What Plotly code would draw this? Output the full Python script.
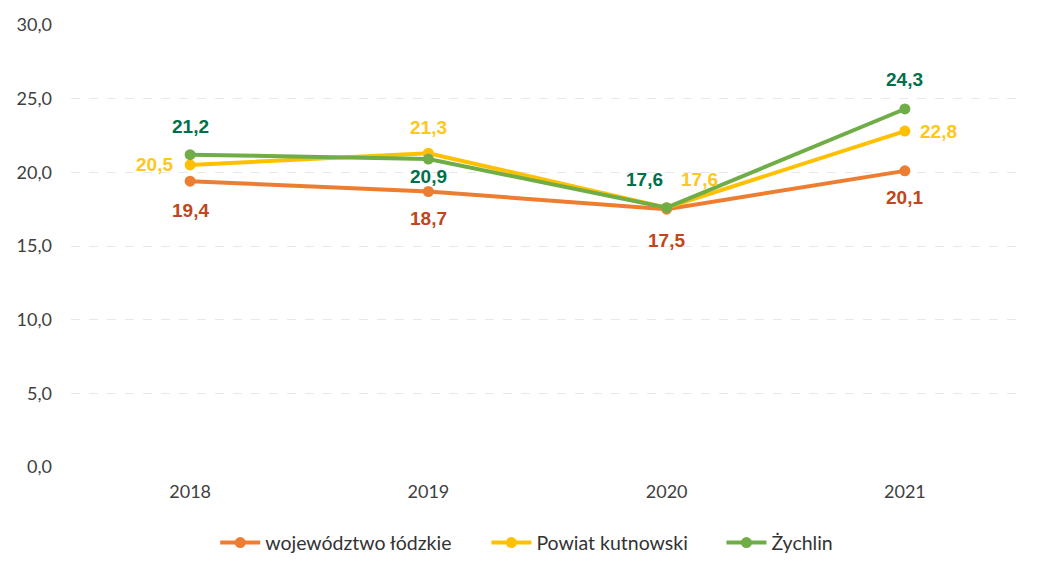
import plotly.graph_objects as go

years = [2018, 2019, 2020, 2021]
year_labels = ["2018", "2019", "2020", "2021"]
lodzkie = [19.4, 18.7, 17.5, 20.1]
kutnowski = [20.5, 21.3, 17.6, 22.8]
zychlin = [21.2, 20.9, 17.6, 24.3]
tick_vals = [0, 5, 10, 15, 20, 25, 30]
tick_text = ["0,0", "5,0", "10,0", "15,0", "20,0", "25,0", "30,0"]

series = [
    ("województwo łódzkie", lodzkie, "#ED7D31", "#C0461C", "legend",
     [(0, -29), (0, -27), (0, -31), (0, -27)]),
    ("Powiat kutnowski", kutnowski, "#FFC000", "#FFC71A", "legend2",
     [(-36, 0), (0, 26), (33, 28), (34, 0)]),
    ("Żychlin", zychlin, "#70AD47", "#00704A", "legend3",
     [(0, 28), (0, -17), (-22, 28), (0, 29)]),
]

fig = go.Figure()
annotations = []
for name, vals, col, lcol, leg, shifts in series:
    fig.add_trace(go.Scatter(
        x=years, y=vals, name=name, mode="lines+markers",
        line=dict(color=col, width=4),
        marker=dict(color=col, size=11),
        legend=leg,
    ))
    for xv, v, (dx, dy) in zip(years, vals, shifts):
        annotations.append(dict(
            x=xv, y=v, xref="x", yref="y", showarrow=False,
            text="<b>" + f"{v:.1f}".replace(".", ",") + "</b>",
            font=dict(family="Liberation Sans, Arial", size=19, color=lcol),
            xshift=dx, yshift=dy,
        ))

legend_style = dict(
    orientation="h", xref="container", yref="container",
    xanchor="left", y=0.05, yanchor="middle",
    font=dict(family="Lato, Carlito, sans-serif", size=19.5, color="#333333"),
    itemwidth=40, bgcolor="rgba(0,0,0,0)",
)

# page has an 8px body margin; figure sized so the plot lands where the reference has it
fig.update_layout(
    width=1031, height=563,
    margin=dict(l=63, r=15, t=17, b=104, autoexpand=False),
    paper_bgcolor="white", plot_bgcolor="white",
    annotations=annotations,
    showlegend=True,
    legend=dict(legend_style, x=0.201),
    legend2=dict(legend_style, x=0.464),
    legend3=dict(legend_style, x=0.692),
    xaxis=dict(
        range=[2017.5, 2021.5], tickvals=years, ticktext=year_labels,
        showgrid=False, zeroline=False, showline=False, ticks="",
        tickfont=dict(family="Lato, Carlito, sans-serif", size=18, color="#404040"),
        ticklabelstandoff=12,
    ),
    yaxis=dict(
        range=[0, 30], tickvals=tick_vals, ticktext=tick_text,
        showgrid=True, gridcolor="#e8e8e8", griddash="dash", gridwidth=1,
        zeroline=False, showline=False, ticks="",
        tickfont=dict(family="Lato, Carlito, sans-serif", size=18, color="#404040"),
        ticklabelstandoff=18,
    ),
)

fig.write_html("out.html")
